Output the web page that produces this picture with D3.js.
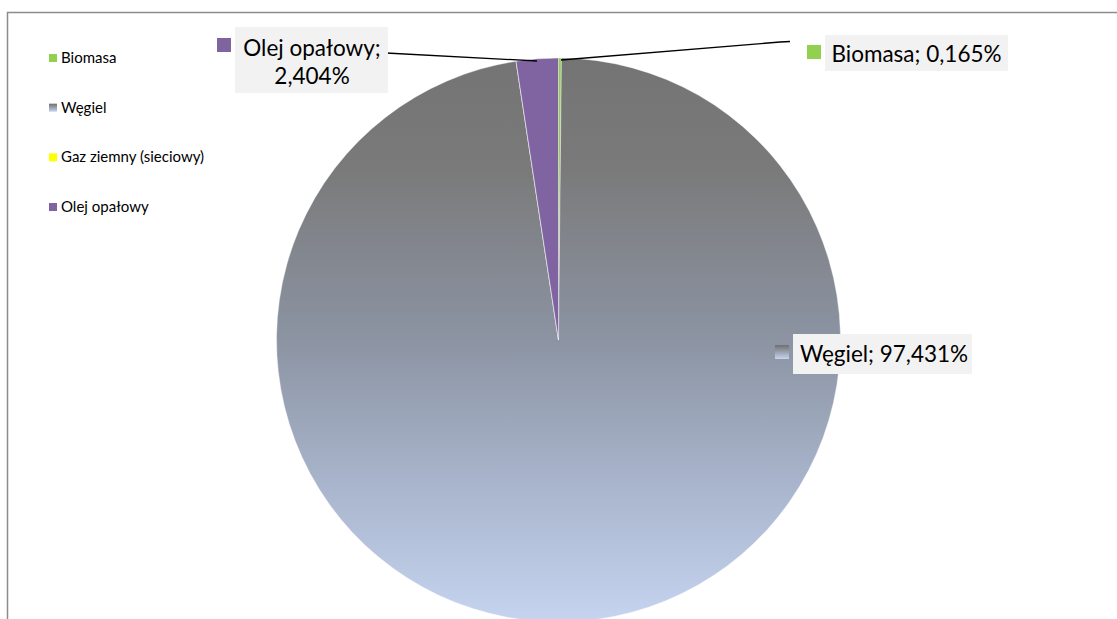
<!DOCTYPE html>
<html><head><meta charset="utf-8">
<script src="https://cdn.jsdelivr.net/npm/d3@7"></script>
<style>body{margin:0;background:#fff}svg{display:block}text{font-family:Lato,"Open Sans",sans-serif}</style>
</head><body><svg id="c" width="1117" height="619"></svg>
<script>
const categories = ["Biomasa","Węgiel","Gaz ziemny (sieciowy)","Olej opałowy"];
const values = [0.165, 97.431, 0, 2.404];
const valueLabels = ["0,165%","97,431%","0,000%","2,404%"];
const colors = ["#92d050","url(#wg)","#ffff00","#8064a2"];

const svg = d3.select("#c");
const defs = svg.append("defs");
const grad = defs.append("linearGradient").attr("id","wg").attr("x1",0).attr("y1",0).attr("x2",0).attr("y2",1);
[[0,"#747474"],[0.2,"#7a7a7a"],[0.5,"#8c94a3"],[0.75,"#a8b4cb"],[1,"#c6d4f0"]].forEach(s=>grad.append("stop").attr("offset",s[0]).attr("stop-color",s[1]));
const lg = defs.append("linearGradient").attr("id","lg").attr("x1",0).attr("y1",0).attr("x2",0).attr("y2",1);
[[0,"#6f6f6f"],[1,"#c6d4f0"]].forEach(s=>lg.append("stop").attr("offset",s[0]).attr("stop-color",s[1]));

svg.append("rect").attr("x",7.5).attr("y",12.5).attr("width",1130).attr("height",700).attr("fill","#fff").attr("stroke","#8c8c8c").attr("stroke-width",1.5);

const cx=558.5, cy=340, r=282;
const pie = d3.pie().sort(null).value(d=>d)(values);
const arc = d3.arc().innerRadius(0).outerRadius(r);
const g = svg.append("g").attr("transform",`translate(${cx},${cy})`);
g.selectAll("path").data(pie).enter().append("path").attr("d",arc)
  .attr("fill",(d,i)=>colors[i]).attr("stroke","#fff").attr("stroke-width",0.4);

// legend
const leg = svg.append("g");
const ly = d3.scalePoint().domain(categories).range([58,207]);
categories.forEach((c,i)=>{
  leg.append("rect").attr("x",49).attr("y",ly(c)-4).attr("width",8).attr("height",8).attr("fill",i===1?"url(#lg)":colors[i]);
  leg.append("text").attr("x",61).attr("y",ly(c)+5).attr("font-size",15).attr("fill","#000").text(c);
});

// data labels
function box(x,y,w,h){svg.append("rect").attr("x",x).attr("y",y).attr("width",w).attr("height",h).attr("fill","#f2f2f2");}
const line = d3.line();
svg.append("path").attr("d",line([[386,53],[537,61]])).attr("stroke","#000").attr("stroke-width",1.3).attr("fill","none");
svg.append("path").attr("d",line([[561,60],[780,42],[790,41.5]])).attr("stroke","#000").attr("stroke-width",1.3).attr("fill","none");

const fs = 22.5;
// Olej
box(235,27,153,66);
svg.append("rect").attr("x",217).attr("y",38).attr("width",14).attr("height",14).attr("fill",colors[3]);
svg.append("text").attr("x",312).attr("y",56).attr("text-anchor","middle").attr("font-size",fs).text(categories[3]+";");
svg.append("text").attr("x",312).attr("y",84).attr("text-anchor","middle").attr("font-size",fs).text(valueLabels[3]);
// Biomasa
box(825,35,183,36);
svg.append("rect").attr("x",807).attr("y",45).attr("width",14).attr("height",14).attr("fill",colors[0]);
svg.append("text").attr("x",916.5).attr("y",62).attr("text-anchor","middle").attr("font-size",fs).text(categories[0]+"; "+valueLabels[0]);
// Węgiel
box(793,334,179,40);
svg.append("rect").attr("x",775).attr("y",345).attr("width",14).attr("height",14).attr("fill","url(#lg)");
svg.append("text").attr("x",884).attr("y",362).attr("text-anchor","middle").attr("font-size",fs).text(categories[1]+"; "+valueLabels[1]);
</script></body></html>
